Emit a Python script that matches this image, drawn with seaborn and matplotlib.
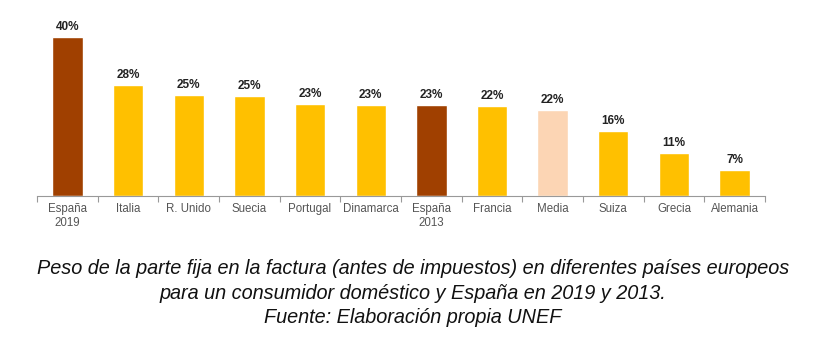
import numpy as np
import pandas as pd
import matplotlib
matplotlib.use("Agg")
import matplotlib.pyplot as plt
import seaborn as sns
from matplotlib.ticker import FixedLocator

# Datos
paises = ["España\n2019", "Italia", "R. Unido", "Suecia", "Portugal", "Dinamarca",
          "España\n2013", "Francia", "Media", "Suiza", "Grecia", "Alemania"]
peso_fijo = [40.0, 28.0, 25.3, 25.1, 23.2, 22.9, 22.9, 22.5, 21.6, 16.3, 10.9, 6.6]
etiquetas = ["40%", "28%", "25%", "25%", "23%", "23%", "23%", "22%", "22%", "16%", "11%", "7%"]
colores = ["#A04000", "#FFC000", "#FFC000", "#FFC000", "#FFC000", "#FFC000",
           "#A04000", "#FFC000", "#FCD5B4", "#FFC000", "#FFC000", "#FFC000"]

df = pd.DataFrame({"pais": paises, "valor": peso_fijo})

sns.set_style("white")
plt.rcParams['font.family'] = ['Liberation Sans', 'DejaVu Sans']

fig = plt.figure(figsize=(8.26, 3.64), dpi=100)
ax = fig.add_axes([0.045, 0.4615, 0.881, 0.492])

sns.barplot(data=df, x="pais", y="valor", hue="pais", palette=colores,
            width=0.5, legend=False, ax=ax, saturation=1)

for p, txt in zip(ax.patches, etiquetas):
    ax.text(p.get_x() + p.get_width() / 2, p.get_height() + 1.0, txt,
            ha="center", va="bottom", fontsize=8.5, fontweight="bold", color="#222222")

ax.set_xlim(-0.5, len(paises) - 0.5)
ax.set_ylim(0, 45)
ax.set_xlabel("")
ax.set_ylabel("")
ax.set_yticks([])
for s in ["top", "right", "left"]:
    ax.spines[s].set_visible(False)
ax.spines["bottom"].set_color("#999999")
ax.spines["bottom"].set_linewidth(0.8)

# marcas entre categorías
ax.xaxis.set_minor_locator(FixedLocator(np.arange(-0.5, len(paises), 1.0)))
ax.tick_params(axis="x", which="minor", bottom=True, length=4, color="#999999",
               width=0.8, direction="out")
ax.tick_params(axis="x", which="major", length=0, labelsize=8.3, labelcolor="#555555", pad=5)

cap_font = ['Liberation Sans Narrow', 'Liberation Sans', 'DejaVu Sans']
cap_kw = dict(ha="center", va="center", fontsize=14.3, style="italic", family=cap_font, color="#111111")
fig.text(0.5, 0.262, "Peso de la parte fija en la factura (antes de impuestos) en diferentes países europeos", **cap_kw)
fig.text(0.5, 0.195, "para un consumidor doméstico y España en 2019 y 2013.", **cap_kw)
fig.text(0.5, 0.128, "Fuente: Elaboración propia UNEF", **cap_kw)

fig.savefig("out.png", dpi=100, facecolor="white")
